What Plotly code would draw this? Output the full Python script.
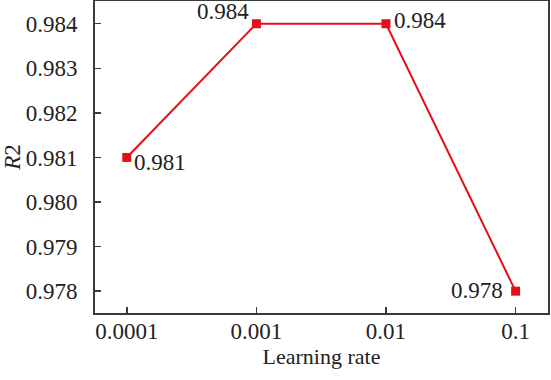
import plotly.graph_objects as go

categories = ["0.0001", "0.001", "0.01", "0.1"]
r2_values = [0.981, 0.984, 0.984, 0.978]
labels = ["0.981", "0.984", "0.984", "0.978"]
y_ticks = [0.978, 0.979, 0.980, 0.981, 0.982, 0.983, 0.984]

red = "#e3101c"
font = "Liberation Serif"

fig = go.Figure()
fig.add_trace(go.Scatter(
    x=list(range(len(categories))), y=r2_values, mode="lines+markers",
    line=dict(color=red, width=2),
    marker=dict(symbol="square", size=9, color=red),
    showlegend=False, cliponaxis=False, hoverinfo="skip",
))

shifts = [(5, -5, "left", "middle"), (-5, 12, "right", "middle"), (6, 3, "left", "middle"), (-11, 1, "right", "middle")]
for i, (lab, (xs, ys, xa, ya)) in enumerate(zip(labels, shifts)):
    fig.add_annotation(x=i, y=r2_values[i], text=lab, showarrow=False,
                       xshift=xs, yshift=ys, xanchor=xa, yanchor=ya,
                       font=dict(family=font, size=23, color="#222"))

axis_common = dict(showline=True, linecolor="#3a3a3a", linewidth=2, mirror=True,
                   ticks="inside", tickcolor="#3a3a3a", ticklen=6, tickwidth=1.5,
                   showgrid=False, zeroline=False, automargin=False,
                   tickfont=dict(family=font, size=23, color="#222"))

fig.update_xaxes(tickmode="array", tickvals=list(range(len(categories))), ticktext=categories,
                 range=[-0.245, 3.25],
                 title=dict(text="Learning rate", font=dict(family=font, size=22, color="#222"), standoff=6),
                 ticklabelstandoff=-4,
                 **axis_common)
fig.update_yaxes(tickmode="array", tickvals=y_ticks, ticktext=[f"{v:.3f}" for v in y_ticks],
                 range=[0.97751, 0.98451],
                 title=dict(text="<i>R</i>2", font=dict(family=font, size=23, color="#222"), standoff=1),
                 ticklabelstandoff=11,
                 **axis_common)

fig.update_layout(width=551, height=380, margin=dict(l=95, r=3, t=1, b=67),
                  plot_bgcolor="white", paper_bgcolor="white")
fig.write_html("out.html", config={"displayModeBar": False, "staticPlot": True},
               post_script="document.body.style.margin='0';document.body.style.overflow='hidden';")
